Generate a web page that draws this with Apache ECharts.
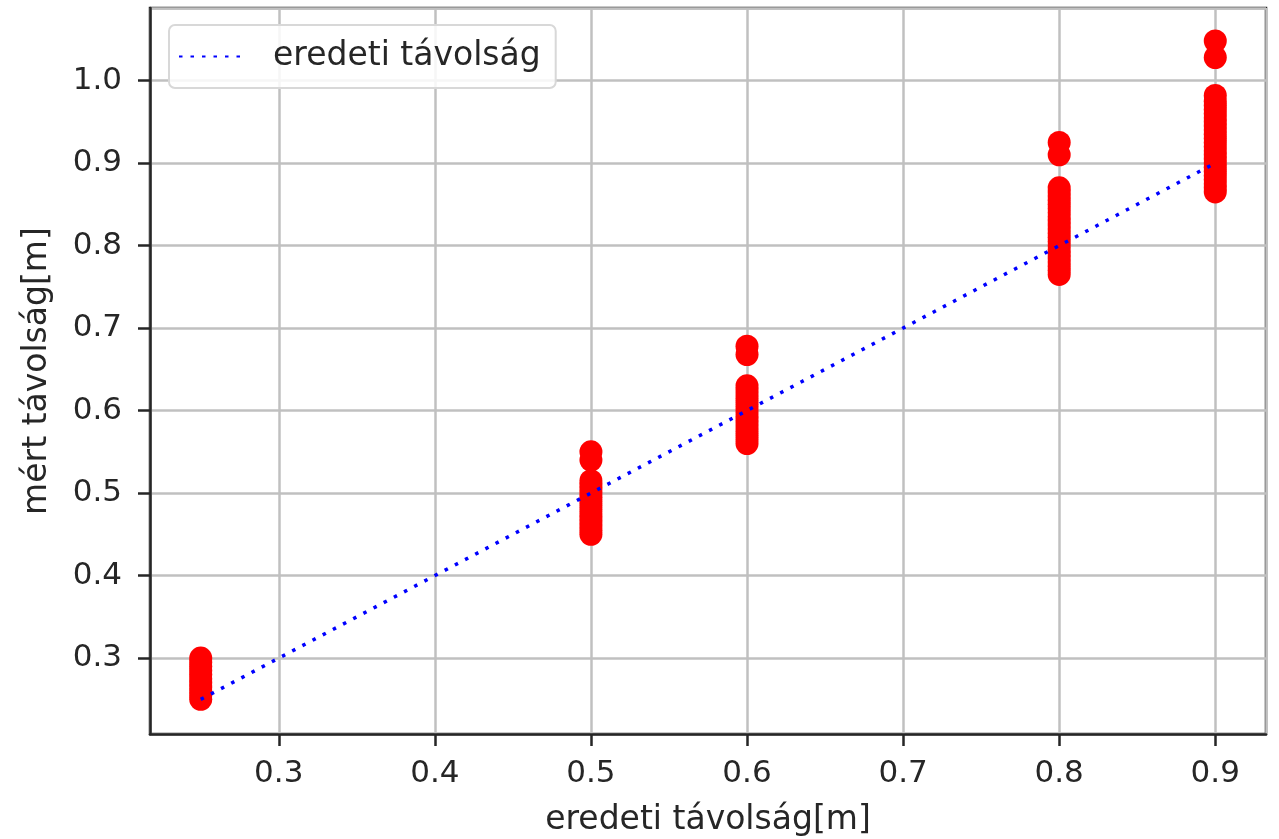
<!DOCTYPE html>
<html lang="hu" style="height: 100%">
<head>
    <meta charset="UTF-8">
    <title>mért távolság</title>
    <script src="https://cdn.jsdelivr.net/npm/echarts@6/dist/echarts.min.js"></script>
</head>
<body style="height: 100%; margin: 0; background: #fff">
    <div id="main" style="width: 1279px; height: 839px"></div>
    <script>
        // eredeti távolságok (m)
        var distances = [0.25, 0.5, 0.6, 0.8, 0.9];
        // mért értékek távolságonként
        var measured025 = [0.25, 0.255, 0.26, 0.265, 0.27, 0.275, 0.28, 0.285, 0.29, 0.295, 0.30];
        var measured05 = [0.45, 0.455, 0.46, 0.465, 0.47, 0.475, 0.48, 0.485, 0.49, 0.495, 0.50, 0.505, 0.51, 0.515, 0.54, 0.55];
        var measured06 = [0.56, 0.565, 0.57, 0.575, 0.58, 0.585, 0.59, 0.595, 0.60, 0.605, 0.61, 0.615, 0.62, 0.625, 0.63, 0.668, 0.678];
        var measured08 = [0.765, 0.77, 0.775, 0.78, 0.785, 0.79, 0.795, 0.80, 0.805, 0.81, 0.815, 0.82, 0.825, 0.83, 0.835, 0.84, 0.845, 0.85, 0.855, 0.86, 0.865, 0.87, 0.91, 0.925];
        var measured09 = [0.865, 0.87, 0.875, 0.88, 0.885, 0.89, 0.895, 0.90, 0.905, 0.91, 0.915, 0.92, 0.925, 0.93, 0.935, 0.94, 0.945, 0.95, 0.955, 0.96, 0.965, 0.97, 0.975, 0.982, 1.028, 1.048];
        var measuredAll = [measured025, measured05, measured06, measured08, measured09];

        var font = 'DejaVu Sans';
        var txt = '#262626';

        var points = [];
        distances.forEach(function (d, i) {
            measuredAll[i].forEach(function (m) { points.push([d, m]); });
        });
        var ideal = distances.map(function (d) { return [d, d]; });

        // csak a 0.1 többszöröseit írjuk ki
        function tenths(v) {
            var r = Math.round(v * 10) / 10;
            return Math.abs(v - r) < 1e-6 ? r.toFixed(1) : '';
        }

        var chart = echarts.init(document.getElementById('main'));
        chart.setOption({
            animation: false,
            backgroundColor: '#fff',
            grid: {
                left: 150, right: 13, top: 8, bottom: 105,
                outerBoundsMode: 'none',
                show: true, borderColor: txt, borderWidth: 2.5, backgroundColor: 'transparent'
            },
            legend: {
                left: 169, top: 25,
                padding: [15, 15, 15, 9],
                itemWidth: 68, itemHeight: 14,
                backgroundColor: 'rgba(255,255,255,0.85)',
                borderColor: '#d8d8d8', borderWidth: 2, borderRadius: 6,
                itemStyle: { opacity: 0 },
                textStyle: { fontFamily: font, fontSize: 33, color: txt, padding: [0, 0, 0, 21] },
                data: ['eredeti távolság']
            },
            xAxis: {
                type: 'value',
                min: 0.2175, max: 0.9325,
                splitNumber: 7,
                name: 'eredeti távolság[m]',
                nameLocation: 'middle', nameGap: 70,
                nameTextStyle: { fontFamily: font, fontSize: 33, color: txt },
                axisLine: { show: true, lineStyle: { color: txt, width: 2.5 } },
                axisTick: { show: true, length: 12, lineStyle: { color: txt, width: 2.5 } },
                axisLabel: {
                    fontFamily: font, fontSize: 31, color: txt, margin: 24,
                    showMinLabel: false, showMaxLabel: false, formatter: tenths
                },
                splitLine: { show: true, lineStyle: { color: '#c0c0c0', width: 2.5 } }
            },
            yAxis: {
                type: 'value',
                min: 0.208, max: 1.088,
                splitNumber: 9,
                name: 'mért távolság[m]',
                nameLocation: 'middle', nameGap: 96, nameRotate: 90,
                nameTextStyle: { fontFamily: font, fontSize: 33, color: txt },
                axisLine: { show: true, lineStyle: { color: txt, width: 2.5 } },
                axisTick: { show: true, length: 12, lineStyle: { color: txt, width: 2.5 } },
                axisLabel: {
                    fontFamily: font, fontSize: 31, color: txt, margin: 28,
                    showMinLabel: false, showMaxLabel: false, formatter: tenths
                },
                splitLine: { show: true, lineStyle: { color: '#c0c0c0', width: 2.5 } }
            },
            series: [
                {
                    name: 'mért',
                    type: 'scatter',
                    symbol: 'circle',
                    symbolSize: 23,
                    itemStyle: { color: '#ff0000', opacity: 1 },
                    data: points,
                    z: 2
                },
                {
                    name: 'eredeti távolság',
                    type: 'line',
                    symbol: 'none',
                    lineStyle: { color: '#0000ff', width: 3.5, type: [3.5, 8] },
                    itemStyle: { color: '#0000ff' },
                    data: ideal,
                    z: 3
                }
            ]
        });
    </script>
</body>
</html>
